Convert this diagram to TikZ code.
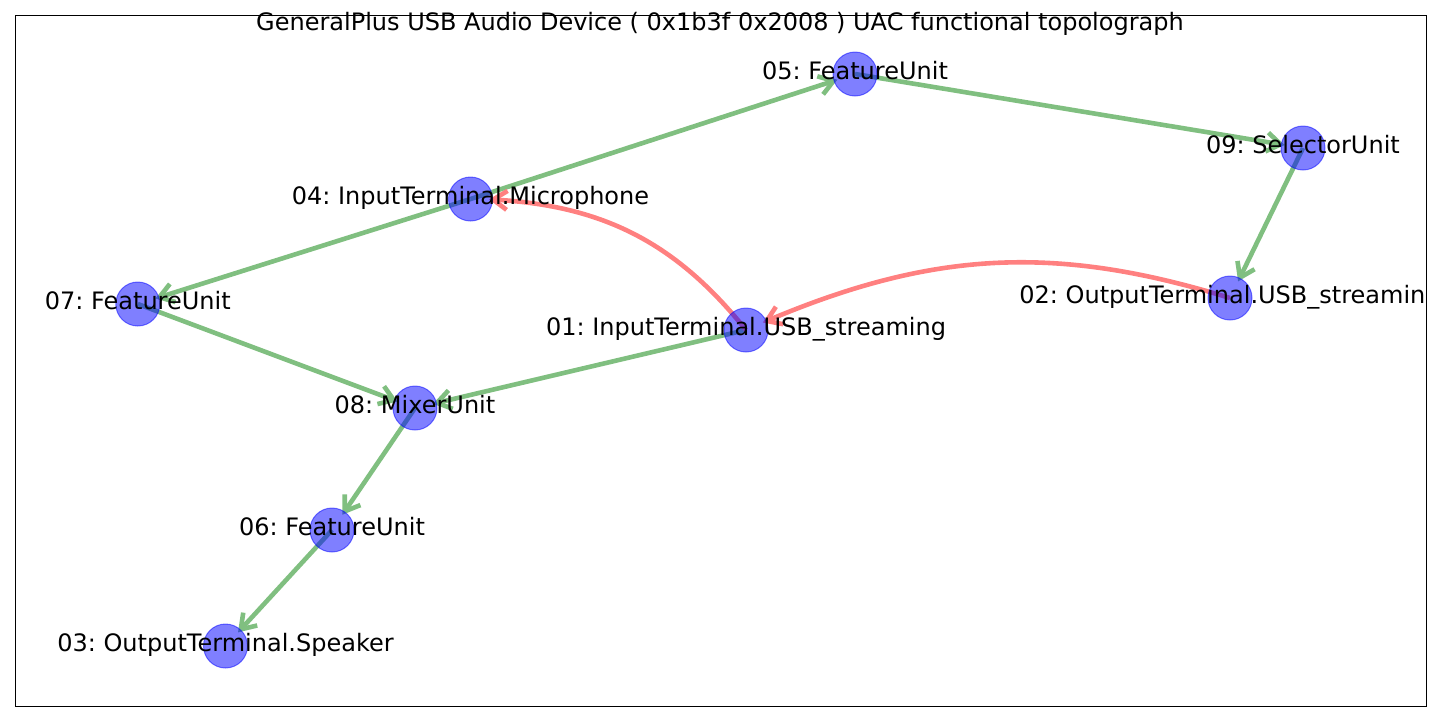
\documentclass[tikz,border=0pt]{standalone}
\usepackage{fontspec}
\setmainfont{DejaVu Sans}
\usetikzlibrary{arrows.meta}
\definecolor{edgegreen}{RGB}{128,191,128}
\definecolor{edgered}{RGB}{255,128,128}
\pgfdeclarelayer{edges}
\pgfsetlayers{edges,main}
\frenchspacing
\begin{document}
\begin{tikzpicture}[x=0.5pt,y=-0.5pt,
  unit/.style={circle, fill=blue, fill opacity=0.5, draw=blue, draw opacity=0.5,
    line width=0.5pt, minimum size=22pt, inner sep=0pt},
  lbl/.style={font=\fontsize{12}{14}\selectfont, text height=0.76em, text depth=0.24em, inner sep=0pt},
  tip/.style={-{Straight Barb[length=7pt,width=9.5pt]}},
  flow/.style={tip, draw=edgegreen, line width=2.3pt, shorten >=-2pt},
  back/.style={tip, draw=edgered, line width=2.3pt, shorten >=-2pt}]
\useasboundingbox (0,0) rectangle (1440,720);
\draw[line width=0.45pt] (15,15) rectangle (1426,706);
\node[lbl] (title) at (720,25) {GeneralPlus USB Audio Device ( 0x1b3f 0x2008 ) UAC functional topolograph};

\node[unit] (n05) at (855,74) {};
\node[unit] (n09) at (1303,148) {};
\node[unit] (n04) at (470.5,199) {};
\node[unit] (n07) at (137.8,304) {};
\node[unit] (n02) at (1230,298) {};
\node[unit] (n01) at (746,330) {};
\node[unit] (n08) at (415,408) {};
\node[unit] (n06) at (332,530) {};
\node[unit] (n03) at (225.5,646) {};

\begin{pgfonlayer}{edges}
\draw[flow] (n04.center) -- (n05);
\draw[flow] (n05.center) -- (n09);
\draw[flow] (n09.center) -- (n02);
\draw[flow] (n04.center) -- (n07);
\draw[flow] (n07.center) -- (n08);
\draw[flow] (n01.center) -- (n08);
\draw[flow] (n08.center) -- (n06);
\draw[flow] (n06.center) -- (n03);
\draw[back] (n01.center) to[bend right=24] (n04);
\draw[back] (n02.center) to[bend right=20] (n01);
\end{pgfonlayer}

\begin{scope}
\clip (15,15) rectangle (1426,706);
\node[lbl] (l05) at (n05.center) {05: FeatureUnit};
\node[lbl] (l09) at (n09.center) {09: SelectorUnit};
\node[lbl] (l04) at (n04.center) {04: InputTerminal.Microphone};
\node[lbl] (l07) at (n07.center) {07: FeatureUnit};
\node[lbl] (l02) at (n02.center) {02: OutputTerminal.USB\_streaming};
\node[lbl] (l01) at (n01.center) {01: InputTerminal.USB\_streaming};
\node[lbl] (l08) at (n08.center) {08: MixerUnit};
\node[lbl] (l06) at (n06.center) {06: FeatureUnit};
\node[lbl] (l03) at (n03.center) {03: OutputTerminal.Speaker};
\end{scope}
\end{tikzpicture}
\end{document}
